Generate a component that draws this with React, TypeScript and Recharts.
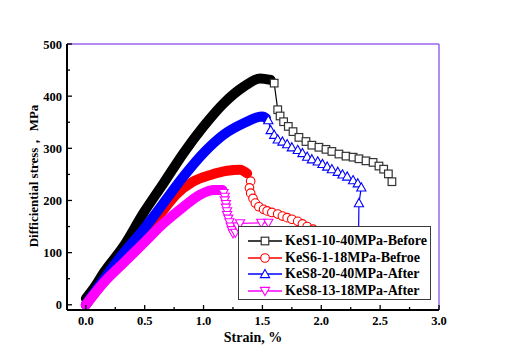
import { LineChart, Line, XAxis, YAxis, ReferenceLine, Legend } from 'recharts'

// axis ticks (minor ticks every half step, labels on majors only)
const strainTicks = [0, 0.25, 0.5, 0.75, 1.0, 1.25, 1.5, 1.75, 2.0, 2.25, 2.5, 2.75, 3.0]
const stressTicks = [0, 50, 100, 150, 200, 250, 300, 350, 400, 450, 500]

// [strain %, differential stress MPa]
// KeS1-10-40MPa-Before
const ke1Rise: [number, number][] = [
  [0, 12], [0.08, 36], [0.15, 61], [0.32, 112], [0.49, 176], [0.66, 233], [0.83, 291],
  [1.0, 342], [1.17, 386], [1.34, 418], [1.48, 434], [1.57, 431],
]
const ke1Post: [number, number][] = [
  [1.6, 425], [1.63, 374], [1.65, 362], [1.68, 351], [1.72, 342], [1.76, 332], [1.81, 321],
  [1.87, 313], [1.92, 306], [1.98, 302], [2.04, 298], [2.09, 294], [2.15, 289], [2.21, 285],
  [2.27, 283], [2.32, 280], [2.38, 276], [2.44, 273], [2.49, 266], [2.53, 260], [2.57, 251],
  [2.6, 236],
]

// KeS6-1-18MPa-Befroe
const ke6Rise: [number, number][] = [
  [0, 0], [0.15, 44], [0.32, 90], [0.52, 140], [0.66, 182], [0.77, 212], [0.91, 236],
  [1.06, 249], [1.2, 257], [1.31, 259], [1.37, 252],
]
const ke6Post: [number, number][] = [
  [1.4, 237], [1.39, 224], [1.4, 214], [1.42, 204], [1.44, 195], [1.47, 188], [1.51, 183],
  [1.54, 180], [1.58, 177], [1.63, 174], [1.67, 170], [1.71, 167], [1.75, 164], [1.8, 160],
  [1.84, 155], [1.88, 150], [1.93, 145], [1.98, 140],
]

// KeS8-20-40MPa-After
const ke8aRise: [number, number][] = [
  [0, 0], [0.15, 48], [0.32, 99], [0.49, 144], [0.66, 195], [0.83, 246], [1.0, 291],
  [1.17, 326], [1.34, 348], [1.5, 361], [1.53, 358],
]
const ke8aPost: [number, number][] = [
  [1.55, 354], [1.57, 335], [1.6, 326], [1.63, 317], [1.67, 313], [1.71, 308], [1.75, 302],
  [1.8, 297], [1.84, 291], [1.88, 284], [1.92, 279], [1.97, 275], [2.01, 270], [2.05, 265],
  [2.09, 260], [2.14, 255], [2.18, 250], [2.22, 246], [2.27, 239], [2.31, 233], [2.34, 225],
  [2.32, 195], [2.31, 20],
]

// KeS8-13-18MPa-After
const ke8bRise: [number, number][] = [
  [0, 0], [0.15, 42], [0.32, 80], [0.49, 118], [0.66, 156], [0.83, 188], [0.97, 211],
  [1.09, 220], [1.16, 220],
]
const ke8bPost: [number, number][] = [
  [1.17, 214], [1.18, 207], [1.18, 200], [1.19, 193], [1.19, 186], [1.2, 179], [1.2, 172],
  [1.21, 165], [1.22, 158], [1.23, 150], [1.24, 143], [1.25, 137], [1.27, 138], [1.29, 150],
  [1.31, 156], [1.49, 157], [1.55, 157],
]

const seriesNames = ['KeS1-10-40MPa-Before', 'KeS6-1-18MPa-Befroe', 'KeS8-20-40MPa-After', 'KeS8-13-18MPa-After']
const seriesColors = ['#000000', '#ff0000', '#0000ff', '#ff00ff']
const seriesShapes = ['square', 'circle', 'up', 'down']
const riseData = [ke1Rise, ke6Rise, ke8aRise, ke8bRise]
const postData = [ke1Post, ke6Post, ke8aPost, ke8bPost]

const FONT = "'Liberation Serif', 'Times New Roman', serif"

const toRows = (pts: [number, number][]) => pts.map(([x, y]) => ({ x, y }))

function Marker({ shape, cx, cy, color }: { shape: string; cx: number; cy: number; color: string }) {
  const stroke = color === '#000000' ? '#333' : color
  if (shape === 'square')
    return <rect x={cx - 3.8} y={cy - 3.8} width={7.6} height={7.6} fill="#fff" stroke={stroke} strokeWidth={1.2} />
  if (shape === 'circle') return <circle cx={cx} cy={cy} r={4.3} fill="#fff" stroke={stroke} strokeWidth={1.1} />
  if (shape === 'up')
    return (
      <polygon
        points={`${cx},${cy - 4.6} ${cx + 4.6},${cy + 3.6} ${cx - 4.6},${cy + 3.6}`}
        fill="#fff"
        stroke={stroke}
        strokeWidth={1.1}
      />
    )
  return (
    <polygon
      points={`${cx - 4.6},${cy - 3.6} ${cx + 4.6},${cy - 3.6} ${cx},${cy + 4.6}`}
      fill="#fff"
      stroke={stroke}
      strokeWidth={1.1}
    />
  )
}

const makeDot = (shape: string, color: string) => (props: any) => {
  const { cx, cy, index } = props
  if (cx == null || cy == null) return <g key={`d-${index}`} />
  return (
    <g key={`d-${index}`}>
      <Marker shape={shape} cx={cx} cy={cy} color={color} />
    </g>
  )
}

const StrainTick = (props: any) => {
  const { x, y, payload } = props
  const v = payload.value
  const major = Math.abs(v * 2 - Math.round(v * 2)) < 1e-6
  return (
    <g>
      <line x1={x} x2={x} y1={y} y2={y - (major ? 5 : 3)} stroke="#000" strokeWidth={1.3} />
      {major && (
        <text x={x} y={y + 15} textAnchor="middle" fontFamily={FONT} fontWeight="bold" fontSize={12.5} fill="#000">
          {v.toFixed(1)}
        </text>
      )}
    </g>
  )
}

const StressTick = (props: any) => {
  const { x, y, payload } = props
  const v = payload.value
  const major = v % 100 === 0
  return (
    <g>
      <line x1={x} x2={x + (major ? 5 : 3)} y1={y} y2={y} stroke="#000" strokeWidth={1.3} />
      {major && (
        <text x={x - 5} y={y + 4.5} textAnchor="end" fontFamily={FONT} fontWeight="bold" fontSize={12.5} fill="#000">
          {v}
        </text>
      )}
    </g>
  )
}

function LegendBox() {
  return (
    <div
      style={{
        width: 193,
        height: 74,
        boxSizing: 'border-box',
        border: '1px solid #3a3a3a',
        background: '#fff',
        paddingTop: 6,
      }}
    >
      {seriesNames.map((name, i) => (
        <div key={name} style={{ display: 'flex', alignItems: 'center', height: 16.6 }}>
          <svg width={36} height={16} style={{ marginLeft: 9, flex: 'none' }}>
            <line x1={0} x2={34} y1={8} y2={8} stroke={seriesColors[i]} strokeWidth={1.5} />
            <Marker shape={seriesShapes[i]} cx={17} cy={8} color={seriesColors[i]} />
          </svg>
          <span
            style={{
              marginLeft: 1,
              fontFamily: FONT,
              fontWeight: 'bold',
              fontSize: 14,
              lineHeight: '16px',
              color: '#000',
              whiteSpace: 'nowrap',
            }}
          >
            {name}
          </span>
        </div>
      ))}
    </div>
  )
}

export default function App() {
  return (
    <div style={{ position: 'absolute', left: 0, top: 0, width: 511, height: 356, background: '#fff' }}>
      <LineChart width={511} height={356} margin={{ top: 44, right: 72, left: 0, bottom: 0 }}>
        <XAxis
          dataKey="x"
          type="number"
          domain={[-0.16, 3.0]}
          ticks={strainTicks}
          interval={0}
          allowDataOverflow
          height={46}
          tickSize={0}
          tickMargin={0}
          tickLine={false}
          tick={<StrainTick />}
          axisLine={{ stroke: '#000', strokeWidth: 2 }}
        />
        <YAxis
          dataKey="y"
          type="number"
          domain={[-10, 500]}
          ticks={stressTicks}
          interval={0}
          allowDataOverflow
          width={67}
          tickSize={0}
          tickMargin={0}
          tickLine={false}
          tick={<StressTick />}
          axisLine={{ stroke: '#000', strokeWidth: 2 }}
        />
        <ReferenceLine y={500} stroke="#9966ee" strokeWidth={1.5} />
        <ReferenceLine x={3.0} stroke="#9966ee" strokeWidth={1.5} />
        {seriesNames.map((name, i) => [
          <Line
            key={`${name}-rise`}
            data={toRows(riseData[i])}
            dataKey="y"
            stroke={seriesColors[i]}
            strokeWidth={10}
            strokeLinecap="round"
            strokeLinejoin="round"
            dot={false}
            activeDot={false}
            type="monotone"
            legendType="none"
            isAnimationActive={false}
          />,
          <Line
            key={`${name}-post`}
            data={toRows(postData[i])}
            dataKey="y"
            name={name}
            stroke={seriesColors[i]}
            strokeWidth={1.2}
            dot={makeDot(seriesShapes[i], seriesColors[i])}
            activeDot={false}
            type="linear"
            isAnimationActive={false}
          />,
        ])}
        <Legend
          layout="horizontal"
          verticalAlign="middle"
          align="center"
          content={() => <LegendBox />}
          wrapperStyle={{ position: 'absolute', left: 238, top: 226, width: 193, height: 74 }}
        />
      </LineChart>
      <div
        style={{
          position: 'absolute',
          left: 253,
          top: 337,
          transform: 'translate(-50%, -50%)',
          fontFamily: FONT,
          fontWeight: 'bold',
          fontSize: 14,
          lineHeight: '15px',
          whiteSpace: 'nowrap',
          color: '#000',
        }}
      >
        Strain, %
      </div>
      <div
        style={{
          position: 'absolute',
          left: 34,
          top: 176,
          transform: 'translate(-50%, -50%) rotate(-90deg)',
          fontFamily: FONT,
          fontWeight: 'bold',
          fontSize: 13,
          whiteSpace: 'nowrap',
          color: '#000',
        }}
      >
        Difficiential stress， MPa
      </div>
    </div>
  )
}
